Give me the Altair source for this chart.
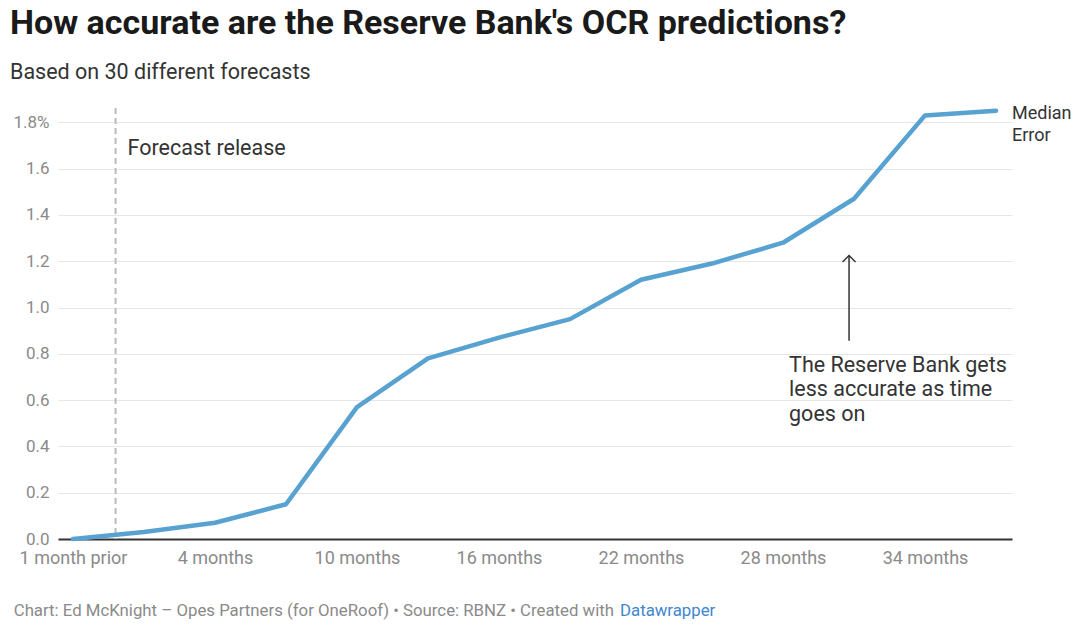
import altair as alt
import pandas as pd

# ---- data ----
periods = ["1 month prior", "1 month", "4 months", "7 months", "10 months",
           "13 months", "16 months", "19 months", "22 months", "25 months",
           "28 months", "31 months", "34 months", "37 months"]
median_error = [0.0, 0.03, 0.07, 0.15, 0.57, 0.78, 0.87, 0.95, 1.12, 1.19,
                1.28, 1.47, 1.83, 1.85]
x_tick_positions = [0, 2, 4, 6, 8, 10, 12]
y_ticks = [0.0, 0.2, 0.4, 0.6, 0.8, 1.0, 1.2, 1.4, 1.6, 1.8]
release_position = [0.6]
arrow_x = [10.93]
arrow_y = [0.857]
arrow_y2 = [1.225]
annotation_lines = ["The Reserve Bank gets", "less accurate as time", "goes on"]
annotation_x = [10.085]
annotation_y = [0.7236]
series_label = ["Median", "Error"]

title_text = "How accurate are the Reserve Bank's OCR predictions?"
subtitle_text = "Based on 30 different forecasts"
footer_text = "Chart: Ed McKnight \u2013 Opes Partners (for OneRoof) \u2022 Source: RBNZ \u2022 Created with"
footer_link = "Datawrapper"

FONT = "Roboto"
W, H = 954, 431

df = pd.DataFrame({"idx": list(range(len(periods))), "period": periods,
                   "error": median_error})
rel_df = pd.DataFrame({"x": release_position, "y": [1.661]})
arrow_df = pd.DataFrame({"x": arrow_x, "y": arrow_y, "y2": arrow_y2})
ann_df = pd.DataFrame({"x": annotation_x, "y": annotation_y})
last_df = df.tail(1)

x_scale = alt.Scale(domain=[-0.211, 13.225], nice=False, zero=False)
y_scale = alt.Scale(domain=[0, 1.862], nice=False)

label_js = "[" + ",".join("'" + p + "'" for p in periods) + "]"

x_axis = alt.Axis(values=x_tick_positions, labelExpr=label_js + "[datum.value]",
                  title=None, grid=False, ticks=False, domainColor="#333333",
                  domainWidth=2, labelColor="#8a8a8a", labelFontSize=18,
                  labelFont=FONT, labelPadding=10)
y_axis = alt.Axis(values=y_ticks,
                  labelExpr="datum.value == 1.8 ? '1.8%' : format(datum.value, '.1f')",
                  title=None, grid=True, gridColor="#e6e6e6", gridWidth=1,
                  domain=False, ticks=False, labelColor="#8a8a8a",
                  labelFontSize=17, labelFont=FONT, labelPadding=9)

line = alt.Chart(df).mark_line(color="#58a2d1", strokeWidth=4.5,
                               strokeCap="round", strokeJoin="round").encode(
    x=alt.X("idx:Q", scale=x_scale, axis=x_axis),
    y=alt.Y("error:Q", scale=y_scale, axis=y_axis),
)

release_rule = alt.Chart(rel_df).mark_rule(color="#bbbbbb", strokeWidth=2,
                                           strokeDash=[6, 4]).encode(
    x=alt.X("x:Q", scale=x_scale), y=alt.value(0), y2=alt.value(H))

release_text = alt.Chart(rel_df).mark_text(
    text="Forecast release", align="left", baseline="alphabetic", dx=12,
    font=FONT, fontSize=21.5, color="#333333").encode(
    x=alt.X("x:Q", scale=x_scale), y=alt.Y("y:Q", scale=y_scale))

arrow_line = alt.Chart(arrow_df).mark_rule(color="#333333", strokeWidth=1.5).encode(
    x=alt.X("x:Q", scale=x_scale), y=alt.Y("y:Q", scale=y_scale), y2="y2:Q")

arrow_head = alt.Chart(arrow_df).mark_point(
    shape="M-1,1L0,0L1,1", filled=False, size=169, stroke="#333333",
    strokeWidth=1.5, opacity=1).encode(
    x=alt.X("x:Q", scale=x_scale), y=alt.Y("y2:Q", scale=y_scale))

ann_text = alt.Chart(ann_df).mark_text(
    text=annotation_lines, align="left", baseline="alphabetic", lineHeight=24.5,
    font=FONT, fontSize=21.5, color="#333333").encode(
    x=alt.X("x:Q", scale=x_scale), y=alt.Y("y:Q", scale=y_scale))

series_text = alt.Chart(last_df).mark_text(
    text=series_label, align="left", baseline="alphabetic", lineHeight=22,
    dx=16, dy=8, font=FONT, fontSize=18, color="#333333").encode(
    x=alt.X("idx:Q", scale=x_scale), y=alt.Y("error:Q", scale=y_scale))

title = alt.Chart(df.head(1)).mark_text(
    text=title_text, align="left", baseline="alphabetic", font=FONT,
    fontSize=34, fontWeight="bold", color="#1a1a1a").encode(
    x=alt.value(-48), y=alt.value(-74))

subtitle = alt.Chart(df.head(1)).mark_text(
    text=subtitle_text, align="left", baseline="alphabetic", font=FONT,
    fontSize=21.5, color="#333333").encode(
    x=alt.value(-48), y=alt.value(-29))

footer = alt.Chart(df.head(1)).mark_text(
    text=footer_text, align="right", baseline="alphabetic", font=FONT,
    fontSize=16.8, color="#8a8a8a").encode(
    x=alt.value(556), y=alt.value(508))

footer_blue = alt.Chart(df.head(1)).mark_text(
    text=footer_link, align="left", baseline="alphabetic", font=FONT,
    fontSize=16.8, color="#3f86cf").encode(
    x=alt.value(562), y=alt.value(508))

chart = alt.layer(
    release_rule, line, release_text, arrow_line, arrow_head, ann_text,
    series_text, title, subtitle, footer, footer_blue
).properties(
    width=W, height=H,
    autosize=alt.AutoSizeParams(type="none"),
    padding={"left": 50, "top": 100, "right": 60, "bottom": 83},
    background="white",
).configure_view(stroke=None)

chart.save("out.html", embed_options={"renderer": "svg", "actions": False})
